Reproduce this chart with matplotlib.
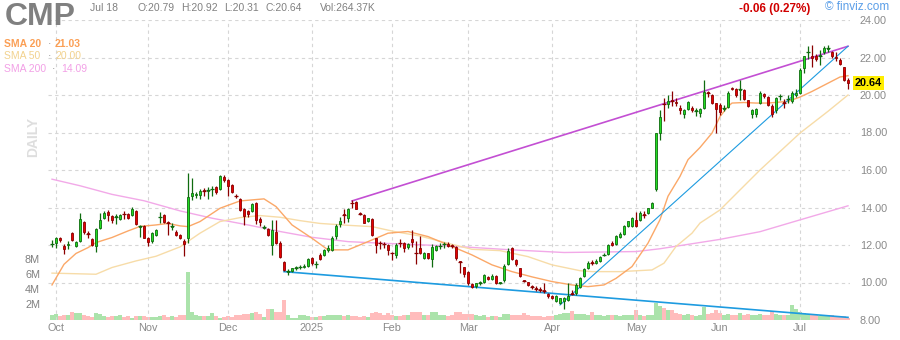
import matplotlib
matplotlib.use("Agg")
import matplotlib.pyplot as plt
import numpy as np
import pandas as pd

plt.rcParams['font.family'] = ['Liberation Sans', 'DejaVu Sans']

# Dias de mercado (festivos de EE.UU. fuera)
holidays = ["2024-11-28", "2024-12-25", "2025-01-01", "2025-01-09", "2025-01-20",
            "2025-02-17", "2025-04-18", "2025-05-26", "2025-06-19", "2025-07-04"]
dates = pd.bdate_range("2024-09-30", "2025-07-18", freq="C", holidays=holidays)

# OHLC
opens = [12.05, 12.1, 12.4, 11.95, 12.0, 12.65, 11.95, 12.2, 13.25, 12.62, 12.3, 11.95, 12.9, 13.45, 13.75, 13.55, 13.5, 13.4, 13.67, 13.65,
         13.6, 13.8, 12.98, 13.0, 12.4, 12.2, 12.55, 13.48, 13.6, 13.22, 12.98, 12.7, 12.55, 12.2, 12.36, 14.62, 14.68, 14.67, 14.92, 14.88,
         14.98, 15.07, 15.0, 15.64, 15.45, 15.2, 14.62, 14.46, 13.9, 13.8, 13.8, 14.23, 13.4, 12.93, 12.85, 12.0, 12.7, 12.13, 11.08, 10.57,
         10.63, 10.78, 10.82, 10.85, 10.9, 11.3, 10.98, 11.47, 11.47, 11.72, 11.75, 12.5, 13.13, 13.62, 13.46, 14.24, 14.28, 13.7, 13.6, 13.3,
         13.4, 12.36, 12.12, 12.08, 12.0, 11.6, 11.45, 12.12, 12.12, 11.88, 12.3, 11.57, 11.83, 11.3, 11.55, 11.25, 11.75, 11.93, 12.03, 12.07,
         11.97, 11.9, 11.12, 10.82, 10.55, 9.9, 9.8, 9.98, 10.05, 10.3, 10.2, 10.35, 10.0, 10.14, 11.0, 11.83, 11.2, 10.75, 10.12, 10.02,
         9.78, 9.68, 9.63, 9.58, 9.4, 9.3, 9.02, 8.93, 9.02, 9.05, 9.42, 9.42, 9.75, 10.35, 10.79, 11.08, 11.05, 11.14, 11.46, 11.5,
         12.13, 12.07, 12.42, 12.6, 13.03, 13.03, 13.33, 13.33, 13.62, 13.73, 14.0, 14.98, 17.97, 19.52, 19.5, 19.7, 19.63, 19.33, 19.0, 19.27,
         19.3, 19.15, 19.04, 19.3, 20.15, 19.98, 19.55, 19.48, 19.28, 19.37, 20.38, 20.3, 20.28, 20.25, 19.73, 19.0, 18.97, 19.55, 20.06, 19.88,
         19.43, 19.2, 19.94, 19.62, 19.78, 19.7, 20.0, 20.13, 21.42, 22.28, 22.1, 22.08, 22.08, 22.3, 22.48, 22.28, 22.05, 21.88, 21.47, 20.79]
highs = [12.25, 12.45, 12.45, 12.05, 12.2, 12.7, 12.2, 13.7, 13.3, 12.75, 12.35, 12.9, 13.7, 13.8, 13.85, 13.6, 13.65, 13.65, 13.8, 13.7,
         14.05, 13.85, 13.05, 13.05, 12.45, 12.7, 12.85, 13.75, 13.65, 13.3, 13.15, 12.8, 12.6, 12.3, 15.85, 15.6, 14.85, 15.0, 15.05, 15.1,
         15.15, 15.15, 15.75, 15.72, 15.5, 15.25, 14.7, 14.5, 13.95, 13.85, 14.25, 14.3, 13.5, 13.05, 12.9, 13.34, 13.35, 12.2, 11.15, 10.7,
         10.8, 10.9, 10.95, 11.0, 11.3, 11.35, 11.15, 11.55, 11.8, 12.0, 12.5, 13.1, 13.5, 13.9, 14.0, 14.4, 14.35, 13.75, 13.65, 13.45,
         13.45, 12.4, 12.2, 12.15, 12.05, 11.65, 12.1, 12.3, 12.15, 12.1, 12.8, 12.2, 12.5, 11.65, 11.6, 12.05, 12.0, 12.1, 12.15, 12.15,
         12.05, 11.95, 11.15, 10.85, 10.6, 9.95, 10.0, 10.1, 10.45, 10.35, 10.45, 10.4, 10.05, 11.0, 11.85, 11.9, 11.25, 10.8, 10.15, 10.05,
         9.85, 9.8, 9.75, 10.0, 9.45, 9.35, 9.35, 9.2, 9.25, 9.95, 9.6, 9.95, 10.3, 10.8, 11.15, 11.2, 11.25, 11.4, 11.55, 12.05,
         12.2, 12.55, 12.7, 13.05, 13.3, 13.5, 13.75, 13.8, 13.8, 14.0, 14.3, 18.0, 19.2, 19.85, 20.0, 20.2, 19.85, 19.45, 19.25, 19.7,
         19.4, 19.3, 19.3, 20.8, 20.2, 20.05, 19.6, 19.55, 19.45, 20.2, 20.45, 20.35, 20.8, 20.3, 19.75, 19.25, 19.3, 20.2, 20.1, 19.95,
         19.5, 19.9, 20.05, 19.8, 20.0, 20.2, 20.3, 21.45, 22.1, 22.6, 22.65, 22.2, 22.4, 22.6, 22.65, 22.35, 22.3, 21.95, 21.5, 20.92]
lows = [11.9, 11.85, 12.15, 11.5, 11.8, 12.2, 11.9, 12.15, 12.6, 12.35, 11.95, 11.65, 12.85, 13.4, 13.3, 13.15, 13.1, 13.35, 13.4, 13.4,
        13.55, 13.05, 12.45, 12.35, 11.95, 12.1, 12.5, 13.2, 13.15, 12.55, 12.8, 12.5, 12.3, 11.43, 12.1, 14.4, 14.5, 14.45, 14.6, 14.45,
        14.6, 14.7, 14.95, 15.35, 14.6, 14.8, 14.5, 13.8, 13.05, 13.5, 13.75, 13.1, 13.0, 12.85, 12.5, 11.47, 12.05, 11.3, 10.6, 10.4,
        10.55, 10.65, 10.7, 10.75, 10.85, 10.95, 10.8, 11.2, 11.4, 11.65, 11.7, 12.3, 12.95, 13.2, 13.25, 13.95, 13.9, 13.6, 13.15, 13.25,
        12.5, 11.55, 11.8, 11.85, 11.45, 11.2, 11.3, 11.9, 11.65, 11.8, 11.9, 11.0, 11.5, 11.25, 11.25, 10.85, 11.7, 11.8, 11.85, 11.9,
        11.85, 11.2, 10.5, 10.3, 9.85, 9.7, 9.7, 9.85, 10.0, 10.15, 10.15, 9.9, 9.9, 10.05, 10.95, 11.2, 10.9, 10.3, 10.05, 9.8,
        9.65, 9.55, 9.5, 9.45, 9.2, 9.1, 8.95, 8.85, 8.6, 9.0, 9.35, 9.35, 9.7, 10.3, 10.7, 10.95, 11.0, 11.1, 11.4, 11.45,
        11.95, 12.0, 12.35, 12.55, 12.95, 12.95, 12.95, 13.3, 13.45, 13.65, 13.95, 14.9, 17.6, 18.6, 19.3, 19.4, 19.4, 19.0, 18.8, 19.2,
        19.1, 18.9, 18.85, 19.25, 19.9, 19.5, 18.0, 18.95, 19.15, 19.3, 20.25, 19.9, 19.75, 19.75, 19.35, 18.75, 18.85, 19.5, 19.85, 19.4,
        18.85, 19.05, 19.75, 19.3, 19.6, 19.6, 19.9, 20.05, 21.2, 21.9, 21.5, 21.8, 21.6, 22.2, 22.3, 22.0, 21.8, 21.6, 20.75, 20.31]
closes = [12.05, 12.35, 12.25, 11.8, 12.05, 12.25, 12.15, 13.4, 12.7, 12.6, 12.0, 12.85, 13.35, 13.7, 13.6, 13.35, 13.52, 13.6, 13.65, 13.45,
          13.9, 13.1, 13.02, 12.4, 12.15, 12.65, 12.8, 13.5, 13.25, 13.2, 13.0, 12.55, 12.35, 12.05, 14.55, 14.76, 14.72, 14.9, 14.9, 14.92,
          15.0, 14.82, 15.67, 15.48, 15.17, 14.85, 14.6, 13.87, 13.55, 13.65, 14.2, 13.34, 13.25, 12.95, 12.55, 12.8, 12.1, 11.37, 10.69, 10.6,
          10.75, 10.8, 10.85, 10.9, 11.24, 11.03, 11.0, 11.26, 11.74, 11.85, 12.4, 13.03, 13.3, 13.6, 13.91, 14.22, 13.93, 13.68, 13.2, 13.42,
          12.53, 12.0, 12.1, 12.05, 11.76, 11.57, 12.0, 12.1, 11.82, 12.05, 12.17, 11.55, 11.55, 11.56, 11.3, 11.9, 11.95, 11.95, 12.05, 11.95,
          11.95, 11.3, 11.1, 10.46, 10.0, 9.75, 9.95, 10.0, 10.4, 10.2, 10.35, 9.95, 10.0, 10.88, 11.7, 11.25, 10.97, 10.35, 10.1, 9.85,
          9.77, 9.66, 9.62, 9.57, 9.27, 9.18, 9.3, 9.17, 9.2, 9.3, 9.4, 9.87, 10.22, 10.72, 11.03, 11.05, 11.17, 11.35, 11.48, 12.0,
          12.0, 12.5, 12.6, 13.0, 13.28, 13.46, 13.03, 13.73, 13.6, 13.98, 14.22, 17.97, 18.82, 19.5, 19.68, 19.68, 19.55, 19.2, 19.22, 19.65,
          19.2, 19.16, 19.25, 20.16, 20.13, 19.6, 19.25, 19.1, 19.3, 20.13, 20.3, 19.98, 20.3, 19.8, 19.4, 19.22, 19.25, 20.1, 19.93, 19.47,
          18.98, 19.82, 19.96, 19.6, 19.8, 20.1, 20.13, 21.35, 22.06, 22.3, 22.0, 21.9, 22.1, 22.5, 22.5, 22.1, 21.95, 21.68, 20.8, 20.64]
# volumen en millones
volumes = [0.66, 0.75, 0.5, 0.66, 0.6, 1.1, 0.88, 0.96, 0.66, 0.5, 0.4, 0.96, 0.85, 0.55, 0.45, 0.55, 0.5, 0.6, 0.4, 0.55,
           0.25, 0.5, 0.5, 0.5, 0.4, 0.4, 0.4, 0.5, 0.66, 0.4, 0.5, 0.45, 0.66, 0.66, 6.36, 1.1, 0.66, 0.5, 0.5, 0.5,
           0.88, 0.5, 0.3, 0.4, 0.5, 0.4, 0.66, 0.66, 0.83, 0.75, 0.88, 1.1, 0.83, 0.4, 1.5, 1.5, 1.1, 1.1, 2.6, 0.66,
           0.3, 0.3, 0.6, 0.66, 0.5, 0.45, 0.4, 0.5, 0.55, 0.66, 0.7, 0.66, 0.6, 0.5, 0.6, 0.5, 0.55, 0.4, 0.55, 0.45,
           0.9, 1.0, 0.95, 0.7, 0.9, 0.7, 0.5, 0.5, 0.6, 0.7, 1.1, 1.1, 1.0, 0.6, 0.7, 1.1, 1.0, 0.7, 0.6, 0.5,
           0.7, 1.1, 1.1, 0.8, 0.8, 0.75, 0.6, 0.5, 0.6, 0.45, 0.5, 0.55, 0.4, 0.8, 0.75, 0.7, 0.6, 0.7, 0.9, 0.6,
           0.5, 0.5, 0.55, 0.45, 0.5, 0.55, 0.7, 0.8, 0.88, 0.9, 1.25, 0.8, 0.8, 0.75, 0.7, 1.05, 0.65, 0.6, 0.55, 0.7,
           0.65, 0.6, 0.55, 0.65, 0.6, 0.7, 1.27, 0.7, 0.55, 0.6, 0.65, 2.3, 1.85, 1.6, 1.3, 1.3, 0.9, 0.8, 0.7, 0.75,
           0.6, 0.55, 0.7, 1.7, 0.8, 0.9, 1.3, 0.9, 0.7, 0.8, 0.7, 0.65, 0.9, 0.7, 0.75, 0.6, 0.7, 0.75, 0.6, 0.7,
           1.25, 0.8, 0.6, 0.6, 0.7, 2.0, 1.4, 1.1, 0.9, 0.8, 0.7, 0.6, 0.55, 0.6, 0.5, 0.6, 0.55, 0.5, 0.55, 0.26]

# medias moviles (dia, valor)
sma20_day = [0, 3, 6, 9, 11, 15, 19, 22, 26, 29, 32, 34, 37, 42, 47, 53, 56, 60, 65, 69, 74, 79, 84, 89, 94, 100, 105, 110, 115, 120,
             125, 130, 134, 138, 141, 145, 149, 152, 154, 157, 159, 162, 165, 167, 169, 170, 173, 176, 179, 184, 187, 190, 194, 197, 199]
sma20_val = [9.87, 10.97, 11.55, 11.86, 12.13, 12.4, 12.75, 12.99, 13.07, 13.15, 13.02, 12.98, 13.25, 13.96, 14.35, 14.46, 14.05, 13.07, 12.36, 11.74,
             11.74, 12.18, 12.63, 12.72, 12.45, 11.92, 11.47, 10.94, 10.58, 10.3, 10.05, 9.87, 9.78, 9.87, 10.22, 10.85, 12.1, 13.35, 14.6, 15.66,
             16.55, 17.2, 17.97, 18.85, 19.39, 19.57, 19.6, 19.57, 19.57, 19.66, 19.89, 20.19, 20.63, 20.96, 21.03]
sma50_day = [0, 11, 15, 21, 26, 32, 37, 42, 47, 52, 57, 62, 67, 74, 80, 86, 92, 99, 105, 112, 119, 125, 132, 135, 142, 150, 153, 156,
             160, 162, 167, 177, 187, 194, 199]
sma50_val = [10.5, 10.44, 10.8, 11.15, 11.4, 11.9, 12.63, 13.25, 13.46, 13.57, 13.48, 13.3, 13.15, 13.05, 12.98, 12.7, 12.48, 12.09, 11.77, 11.7,
             11.38, 10.94, 10.63, 10.58, 10.58, 10.67, 11.03, 11.92, 12.63, 13.17, 13.87, 16.0, 17.97, 19.13, 20.0]
sma200_day = [0, 7, 15, 23, 32, 40, 49, 57, 65, 74, 82, 99, 115, 128, 146, 152, 167, 177, 187, 199]
sma200_val = [15.51, 15.16, 14.7, 14.36, 13.82, 13.43, 13.07, 12.72, 12.41, 12.18, 12.1, 11.95, 11.74, 11.6, 11.65, 11.8, 12.3, 12.71, 13.34, 14.09]

# lineas de tendencia (dia, precio)
upper_trend = ([75, 199], [14.35, 22.6])
lower_trend = ([58, 199], [10.58, 8.14])
rise_trend = ([127, 199], [8.8, 22.6])

x = np.arange(len(dates))
o = np.array(opens)
c = np.array(closes)
up = c >= o

fig = plt.figure(figsize=(9, 3.4), dpi=100)
ax = fig.add_axes([48 / 900, 20 / 340, 802 / 900, 300 / 340])
axv = ax.twinx()
ax.set_zorder(axv.get_zorder() + 1)
ax.patch.set_visible(False)

# volumen
vcol = np.where(up, '#abe3ab', '#ffbcbc')
axv.bar(x, volumes, width=0.8, color=vcol, linewidth=0)
axv.set_ylim(0, 39.5)
axv.axis('off')

# medias
ax.plot(sma200_day, sma200_val, color='#f2a9e8', lw=1.0, zorder=2)
ax.plot(sma50_day, sma50_val, color='#f7dca8', lw=1.0, zorder=2)
ax.plot(sma20_day, sma20_val, color='#fba868', lw=1.0, zorder=2)

# tendencias
ax.plot(*upper_trend, color='#c34fd3', lw=1.2, zorder=3)
ax.plot(*lower_trend, color='#1d9be0', lw=1.2, zorder=3)
ax.plot(*rise_trend, color='#1d9be0', lw=0.8, zorder=3)

# velas
edge = np.where(up, '#0f6b0f', '#8b0000')
fill = np.where(up, '#22dd22', '#e50000')
ax.vlines(x, lows, highs, colors=edge, lw=0.9, zorder=4)
body = np.maximum(np.abs(c - o), 0.03)
ax.bar(x, body, bottom=np.minimum(o, c), width=0.7, color=fill, edgecolor=edge, linewidth=0.6, zorder=5)
doji = np.abs(c - o) < 0.04
ax.hlines(c[doji], x[doji] - 0.45, x[doji] + 0.45, colors=edge[doji], lw=0.9, zorder=5)

ax.set_xlim(-1, 199.5)
ax.set_ylim(8, 24)

# ejes y rejilla
mstart = [i for i in range(1, len(dates)) if dates[i].month != dates[i - 1].month]
mlab = ['2025' if dates[i].month == 1 else dates[i].strftime('%b') for i in mstart]
ax.set_xticks(mstart)
ax.set_xticklabels(mlab)
ax.set_yticks(np.arange(8, 25, 2))
ax.set_yticklabels([f"{v:.2f}" for v in np.arange(8, 25, 2)])
ax.yaxis.tick_right()
ax.tick_params(axis='both', length=0, labelsize=7.8, colors='#8a8a8a')
ax.tick_params(axis='y', pad=7)
ax.tick_params(axis='x', pad=2)
ax.grid(True, color='#d6d6d6', linestyle=(0, (3, 3)), linewidth=0.8)
for s in ax.spines.values():
    s.set_visible(False)

# ultimo precio
ax.text(1.006, (closes[-1] - 8) / 16, f"{closes[-1]:.2f}", transform=ax.transAxes, fontsize=7.8,
        fontweight='bold', color='black', va='center', ha='left',
        bbox=dict(boxstyle='square,pad=0.15', fc='#ffee00', ec='none'))

# textos de cabecera
fig.text(5 / 900, 1 - 17 / 340, "CMP", fontsize=23, fontweight='bold', color='#808080', va='center')
gray = '#808080'
fig.text(90 / 900, 1 - 8 / 340, "Jul 18", fontsize=7.5, color=gray, va='center')
fig.text(137 / 900, 1 - 8 / 340, "O:20.79", fontsize=7.5, color=gray, va='center')
fig.text(181 / 900, 1 - 8 / 340, "H:20.92", fontsize=7.5, color=gray, va='center')
fig.text(224 / 900, 1 - 8 / 340, "L:20.31", fontsize=7.5, color=gray, va='center')
fig.text(265 / 900, 1 - 8 / 340, "C:20.64", fontsize=7.5, color=gray, va='center')
fig.text(320 / 900, 1 - 8 / 340, "Vol:264.37K", fontsize=7.5, color=gray, va='center')
fig.text(810 / 900, 1 - 9 / 340, "-0.06 (0.27%)", fontsize=8.5, fontweight='bold', color='#d10000', va='center', ha='right')
fig.text(825 / 900, 1 - 7 / 340, "© finviz.com", fontsize=8.5, color='#5a9ee8', va='center')

fig.text(4 / 900, 1 - 44 / 340, "SMA 20", fontsize=7.5, fontweight='bold', color='#fb9f55', va='center')
fig.text(48 / 900, 1 - 44 / 340, "·", fontsize=7.5, color=gray, va='center')
fig.text(55 / 900, 1 - 44 / 340, "21.03", fontsize=7.5, fontweight='bold', color='#fb9f55', va='center')
fig.text(4 / 900, 1 - 56 / 340, "SMA 50", fontsize=7.5, color='#f2d28e', va='center')
fig.text(48 / 900, 1 - 56 / 340, "·", fontsize=7.5, color=gray, va='center')
fig.text(55 / 900, 1 - 56 / 340, "20.00", fontsize=7.5, color='#f2d28e', va='center')
fig.text(4 / 900, 1 - 69 / 340, "SMA 200", fontsize=7.5, color='#f2a0e6', va='center')
fig.text(52 / 900, 1 - 69 / 340, "·", fontsize=7.5, color=gray, va='center')
fig.text(61 / 900, 1 - 69 / 340, "14.09", fontsize=7.5, color='#f2a0e6', va='center')

fig.text(33 / 900, 1 - 137 / 340, "DAILY", fontsize=10, fontweight='bold', color='#dedede',
         rotation=90, va='center', ha='center')

for lab, yy in zip(["8M", "6M", "4M", "2M"], [260, 275, 290, 305]):
    fig.text(40 / 900, 1 - yy / 340, lab, fontsize=7.8, color=gray, va='center', ha='right')

fig.savefig("out.png", dpi=100)
